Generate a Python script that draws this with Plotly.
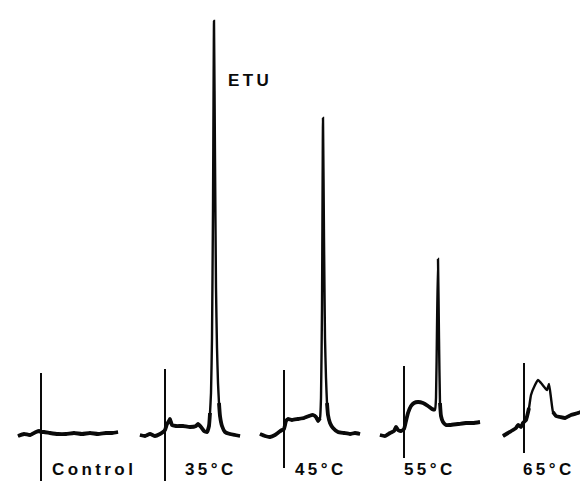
import plotly.graph_objects as go

# ---- data (relative time from injection, detector response in arbitrary units) ----
labels = ["Control", "35°C", "45°C", "55°C", "65°C"]

t_control = [-23, -17, -11, -5, -2, 0, 3, 9, 17, 25, 33, 41, 49, 57, 65, 71, 77]
r_control = [-3, -1, -2, 1, 2, 1, 1, 0, -1, -1, 0, -1, 0, -1, 0, 0, 1]

t_35 = [-25, -20, -15, -10, -5, -2, 0, 2, 4, 5, 7, 11, 18, 25, 31, 33, 36, 39, 42, 44, 45, 46,
        47, 48, 49, 50, 51, 52, 53, 54, 55, 57, 60, 65, 70, 75]
r_35 = [-2, -3, -1, -3, -1, 1, 3, 9, 12, 14, 8, 7, 7, 6, 7, 9, 6, 2, 1, 7, 20, 40,
        95, 225, 412, 275, 145, 85, 50, 30, 17, 7, 1, -1, -2, -3]

t_45 = [-24, -19, -14, -9, -5, -2, 0, 2, 4, 8, 14, 20, 25, 29, 32, 34, 36, 37, 38, 39, 40, 41,
        42, 43, 44, 46, 49, 54, 60, 66, 71, 76]
r_45 = [-1, -3, -4, -2, 1, 3, 4, 12, 14, 13, 14, 15, 17, 18, 16, 12, 15, 35, 125, 315, 195, 95,
        55, 30, 18, 10, 5, 1, 0, -1, 0, -1]

t_55 = [-24, -19, -14, -10, -8, -6, -3, 0, 2, 4, 7, 10, 14, 19, 24, 28, 31, 32, 33, 34, 35, 36,
        37, 39, 42, 46, 54, 62, 69, 76]
r_55 = [-2, -3, 0, 2, 6, 3, 2, 4, 12, 20, 27, 30, 31, 30, 27, 24, 23, 35, 105, 174, 95, 30,
        17, 11, 8, 8, 9, 10, 10, 11]

t_65 = [-21, -16, -11, -8, -6, -3, -1, 0, 2, 5, 7, 11, 14, 17, 21, 23, 25, 27, 29, 32, 36, 41,
        47, 54, 62, 71]
r_65 = [-3, 0, 3, 5, 8, 6, 10, 11, 13, 25, 38, 48, 53, 50, 45, 43, 49, 35, 21, 17, 16, 15,
        18, 20, 23, 26]

# injection marker extent (response units) for each run
inj_top = [60, 64, 63, 67, 70]
inj_bottom = [-53, -49, -35, -25, -20]

peak_label = "ETU"

# ---- layout (positions / styles) ----
W, H = 588, 481
origins = [33, 157, 276, 396, 516]          # x of each injection mark
label_x = [84, 201, 311, 420, 539]
label_y = -36
etu_x, etu_y = 218, 353
thin_threshold = 32
INK = "#0a0a0a"
FONT = "Liberation Sans, Arial, sans-serif"

series_t = [t_control, t_35, t_45, t_55, t_65]
series_r = [r_control, r_35, r_45, r_55, r_65]

fig = go.Figure()
sp = "\u2009"

for i, (ts, rs) in enumerate(zip(series_t, series_r)):
    xs = [origins[i] + t for t in ts]
    # thin pen line for the full trace
    fig.add_trace(go.Scatter(x=xs, y=rs, mode="lines",
                             line=dict(color=INK, width=2.4, shape="spline", smoothing=0.4),
                             hoverinfo="skip", showlegend=False))
    # heavier pen along baseline portions
    rb = [r if r <= thin_threshold else None for r in rs]
    fig.add_trace(go.Scatter(x=xs, y=rb, mode="lines", connectgaps=False,
                             line=dict(color=INK, width=3.8, shape="spline", smoothing=0.4),
                             hoverinfo="skip", showlegend=False))
    # injection marker
    fig.add_trace(go.Scatter(x=[origins[i], origins[i]], y=[inj_top[i], inj_bottom[i]],
                             mode="lines", line=dict(color=INK, width=2),
                             hoverinfo="skip", showlegend=False))
    fig.add_annotation(x=label_x[i], y=label_y, text=sp.join(labels[i]),
                       showarrow=False, xanchor="center", yanchor="middle",
                       font=dict(family=FONT, size=17, color=INK, weight="bold"))

fig.add_annotation(x=etu_x, y=etu_y, text=sp.join(peak_label), showarrow=False,
                   xanchor="left", yanchor="middle",
                   font=dict(family=FONT, size=17, color=INK, weight="bold"))

fig.update_layout(
    width=W, height=H,
    margin=dict(l=0, r=0, t=0, b=0),
    paper_bgcolor="white", plot_bgcolor="white",
    xaxis=dict(range=[0, W], visible=False, fixedrange=True),
    yaxis=dict(range=[425 - H, 425], visible=False, fixedrange=True),
    showlegend=False,
)

fig.write_html("out.html")
